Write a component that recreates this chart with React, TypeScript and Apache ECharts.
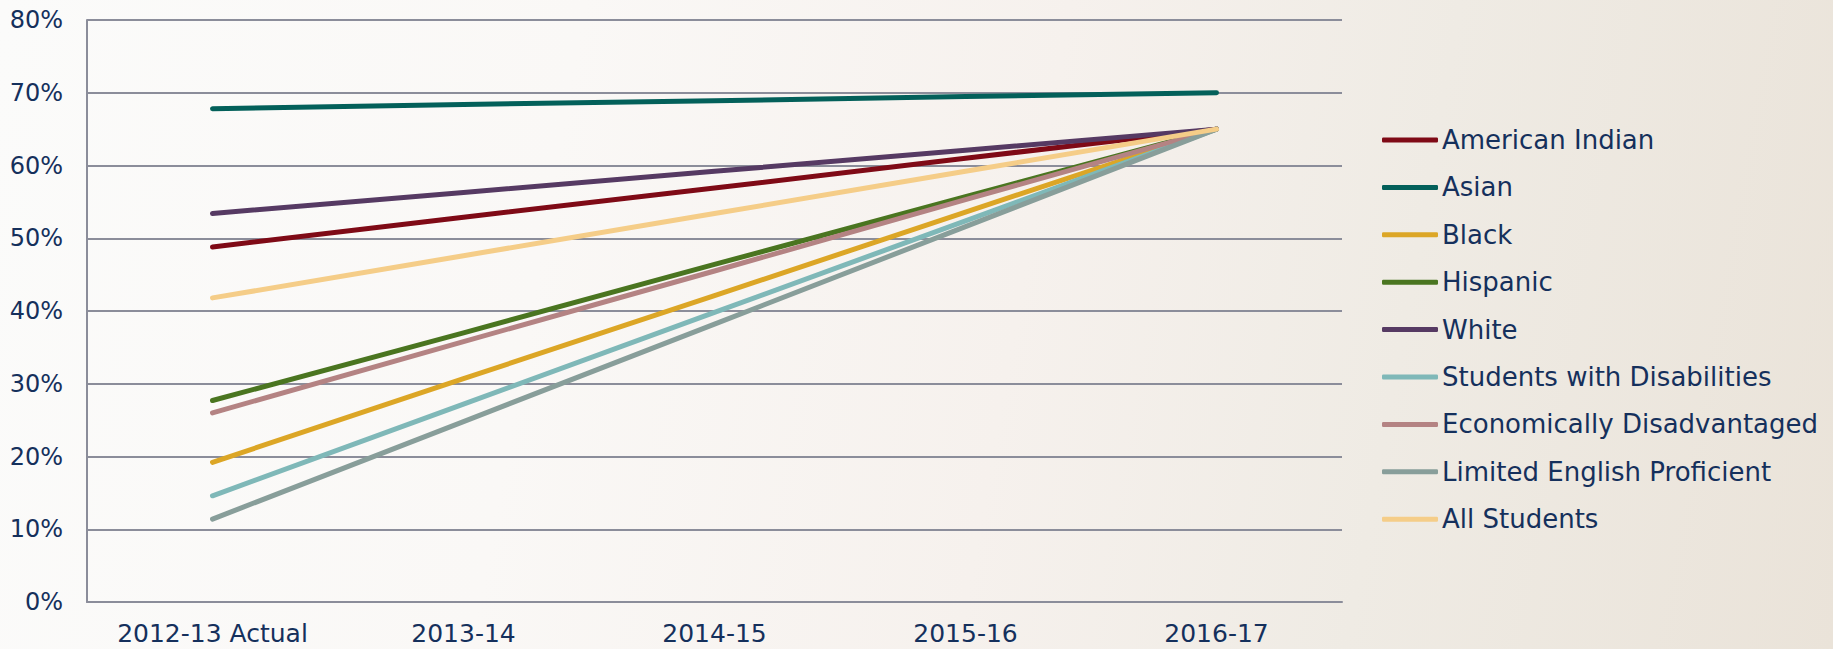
import React, { useEffect, useRef } from "react";
import * as echarts from "echarts";

const categories = ["2012-13 Actual", "2013-14", "2014-15", "2015-16", "2016-17"];
const seriesNames = [
  "American Indian",
  "Asian",
  "Black",
  "Hispanic",
  "White",
  "Students with Disabilities",
  "Economically Disadvantaged",
  "Limited English Proficient",
  "All Students",
];
const americanIndian = [48.8, 52.9, 56.9, 61.0, 65];
const asian = [67.8, 68.4, 68.9, 69.5, 70];
const black = [19.2, 30.7, 42.1, 53.6, 65];
const hispanic = [27.7, 37.0, 46.4, 55.7, 65];
const white = [53.4, 56.3, 59.2, 62.1, 65];
const studentsWithDisabilities = [14.6, 27.2, 39.8, 52.4, 65];
const economicallyDisadvantaged = [26.0, 35.8, 45.5, 55.3, 65];
const limitedEnglish = [11.4, 24.8, 38.2, 51.6, 65];
const allStudents = [41.8, 47.6, 53.4, 59.2, 65];
const seriesValues = [
  americanIndian,
  asian,
  black,
  hispanic,
  white,
  studentsWithDisabilities,
  economicallyDisadvantaged,
  limitedEnglish,
  allStudents,
];
const colors = [
  "#7f0a16",
  "#03605a",
  "#dca626",
  "#4a7520",
  "#563a63",
  "#7fb8b8",
  "#b48383",
  "#889e9a",
  "#f5cd88",
];

const textColor = "#15305c";
const gridColor = "#8b8d9a";
const font = "DejaVu Sans";

export default function App() {
  const ref = useRef<HTMLDivElement>(null);
  useEffect(() => {
    if (!ref.current) return;
    const chart = echarts.init(ref.current, null, { renderer: "svg" });
    chart.setOption({
      animation: false,
      grid: { left: 87, right: 491, top: 20, bottom: 47 },
      legend: {
        orient: "vertical",
        left: 1377,
        top: 120,
        icon: "roundRect",
        itemWidth: 56,
        itemHeight: 5,
        itemGap: 17.4,
        data: seriesNames,
        textStyle: {
          color: textColor,
          fontFamily: font,
          fontSize: 26,
          lineHeight: 30,
          padding: [0, 0, 0, -1],
        },
      },
      xAxis: {
        type: "category",
        data: categories,
        boundaryGap: true,
        axisLine: { show: true, lineStyle: { color: gridColor, width: 2 } },
        axisTick: { show: false },
        axisLabel: {
          color: textColor,
          fontFamily: font,
          fontSize: 25,
          margin: 19,
        },
      },
      yAxis: {
        type: "value",
        min: 0,
        max: 80,
        interval: 10,
        axisLine: { show: true, lineStyle: { color: gridColor, width: 2 } },
        axisTick: { show: false },
        splitLine: { show: true, lineStyle: { color: gridColor, width: 2 } },
        axisLabel: {
          color: textColor,
          fontFamily: font,
          fontSize: 24,
          margin: 24,
          formatter: "{value}%",
        },
      },
      series: seriesNames.map((name, i) => ({
        name,
        type: "line",
        data: seriesValues[i],
        showSymbol: false,
        symbol: "none",
        color: colors[i],
        lineStyle: { color: colors[i], width: 5, cap: "round", join: "round" },
        itemStyle: { color: colors[i] },
      })),
    });
    return () => chart.dispose();
  }, []);
  return (
    <div
      style={{
        position: "fixed",
        left: 0,
        top: 0,
        width: 1833,
        height: 649,
        background:
          "linear-gradient(100deg, #fbfbfa 0%, #faf8f6 30%, #f6f1ed 55%, #efebe4 75%, #eae3d9 100%)",
      }}
    >
      <div ref={ref} style={{ width: 1833, height: 649 }} />
    </div>
  );
}
